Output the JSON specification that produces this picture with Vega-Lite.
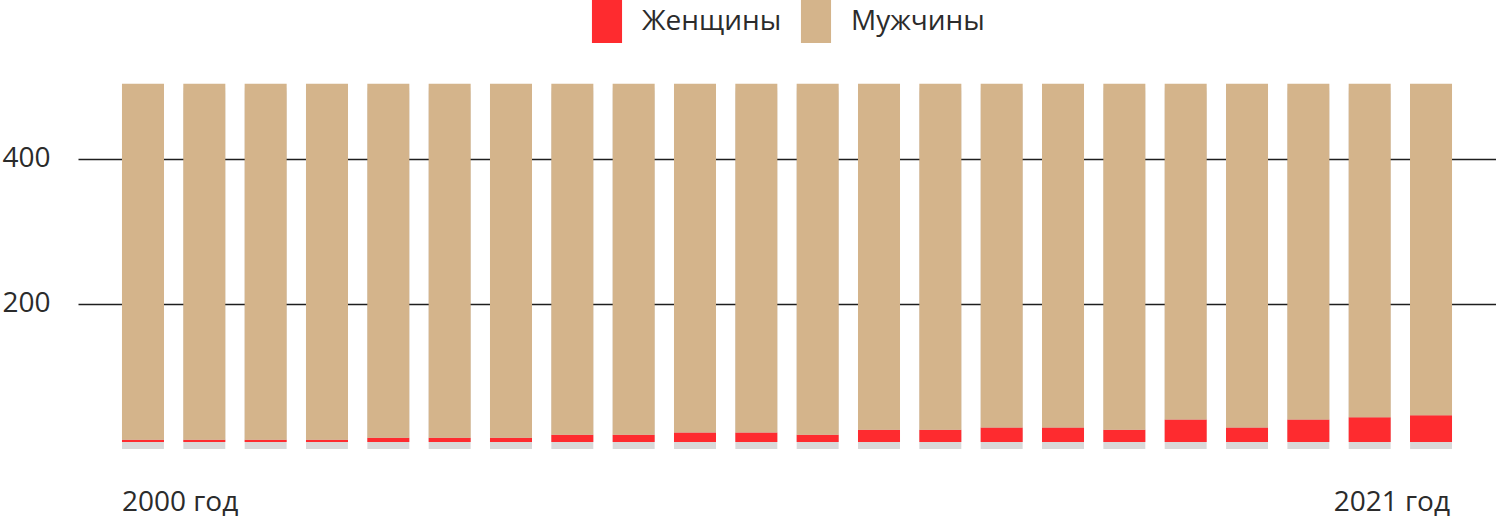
{
  "$schema": "https://vega.github.io/schema/vega-lite/v6.json",
  "width": 1418,
  "height": 365,
  "autosize": {"type": "none"},
  "padding": {"left": 78, "top": 84, "right": 0, "bottom": 69},
  "background": "white",
  "config": {
    "view": {"stroke": null},
    "font": "Open Sans",
    "axisY": {
      "grid": true, "gridColor": "#1e1e1e", "gridWidth": 1.3, "domain": false, "ticks": false, "tickSize": 0,
      "labelAlign": "left", "labelPadding": 76, "labelFontSize": 28, "labelColor": "#2b2b2b"
    },
    "axisX": {
      "grid": false, "domain": false, "ticks": false, "tickSize": 0, "labelAngle": 0,
      "labelFontSize": 28, "labelColor": "#2b2b2b", "labelBaseline": "alphabetic", "labelPadding": 61,
      "labelOverlap": false, "labelFlush": false
    }
  },
  "data": {
    "values": [
      {"year": 2000, "sex": "Женщины", "value": 3}, {"year": 2000, "sex": "Мужчины", "value": 491},
      {"year": 2001, "sex": "Женщины", "value": 3}, {"year": 2001, "sex": "Мужчины", "value": 491},
      {"year": 2002, "sex": "Женщины", "value": 3}, {"year": 2002, "sex": "Мужчины", "value": 491},
      {"year": 2003, "sex": "Женщины", "value": 3}, {"year": 2003, "sex": "Мужчины", "value": 491},
      {"year": 2004, "sex": "Женщины", "value": 6}, {"year": 2004, "sex": "Мужчины", "value": 488},
      {"year": 2005, "sex": "Женщины", "value": 6}, {"year": 2005, "sex": "Мужчины", "value": 488},
      {"year": 2006, "sex": "Женщины", "value": 6}, {"year": 2006, "sex": "Мужчины", "value": 488},
      {"year": 2007, "sex": "Женщины", "value": 10}, {"year": 2007, "sex": "Мужчины", "value": 484},
      {"year": 2008, "sex": "Женщины", "value": 10}, {"year": 2008, "sex": "Мужчины", "value": 484},
      {"year": 2009, "sex": "Женщины", "value": 13}, {"year": 2009, "sex": "Мужчины", "value": 481},
      {"year": 2010, "sex": "Женщины", "value": 13}, {"year": 2010, "sex": "Мужчины", "value": 481},
      {"year": 2011, "sex": "Женщины", "value": 10}, {"year": 2011, "sex": "Мужчины", "value": 484},
      {"year": 2012, "sex": "Женщины", "value": 17}, {"year": 2012, "sex": "Мужчины", "value": 477},
      {"year": 2013, "sex": "Женщины", "value": 17}, {"year": 2013, "sex": "Мужчины", "value": 477},
      {"year": 2014, "sex": "Женщины", "value": 20}, {"year": 2014, "sex": "Мужчины", "value": 474},
      {"year": 2015, "sex": "Женщины", "value": 20}, {"year": 2015, "sex": "Мужчины", "value": 474},
      {"year": 2016, "sex": "Женщины", "value": 17}, {"year": 2016, "sex": "Мужчины", "value": 477},
      {"year": 2017, "sex": "Женщины", "value": 31}, {"year": 2017, "sex": "Мужчины", "value": 463},
      {"year": 2018, "sex": "Женщины", "value": 20}, {"year": 2018, "sex": "Мужчины", "value": 474},
      {"year": 2019, "sex": "Женщины", "value": 31}, {"year": 2019, "sex": "Мужчины", "value": 463},
      {"year": 2020, "sex": "Женщины", "value": 34}, {"year": 2020, "sex": "Мужчины", "value": 460},
      {"year": 2021, "sex": "Женщины", "value": 37}, {"year": 2021, "sex": "Мужчины", "value": 457}
    ]
  },
  "encoding": {
    "x": {
      "field": "year", "type": "ordinal", "title": null,
      "scale": {"paddingInner": 0.315, "paddingOuter": 0.717},
      "axis": {
        "labelExpr": "datum.value == 2000 ? '2000 год' : (datum.value == 2021 ? '2021 год' : '')",
        "labelAlign": {"condition": {"test": "datum.value == 2000", "value": "left"}, "value": "right"},
        "labelOffset": {"condition": {"test": "datum.value == 2000", "value": -21}, "value": 19}
      }
    }
  },
  "layer": [
    {
      "mark": {"type": "bar", "color": "#000000", "opacity": 0.03, "yOffset": 2, "y2Offset": 8},
      "encoding": {
        "y": {"aggregate": "sum", "field": "value", "type": "quantitative", "title": null,
              "scale": {"domain": [0, 503.4], "nice": false}, "axis": {"values": [200, 400]}}
      }
    },
    {
      "mark": {"type": "bar", "color": "#000000", "opacity": 0.05, "yOffset": 0, "y2Offset": 4},
      "encoding": {
        "y": {"aggregate": "sum", "field": "value", "type": "quantitative", "title": null,
              "scale": {"domain": [0, 503.4], "nice": false}, "axis": {"values": [200, 400]}}
      }
    },
    {
      "mark": {"type": "bar", "color": "#000000", "opacity": 0.07, "yOffset": -3, "y2Offset": 0},
      "encoding": {
        "y": {"aggregate": "sum", "field": "value", "type": "quantitative", "title": null,
              "scale": {"domain": [0, 503.4], "nice": false}, "axis": {"values": [200, 400]}}
      }
    },
    {
      "mark": {"type": "bar", "yOffset": -7, "y2Offset": -7},
      "encoding": {
        "y": {"field": "value", "type": "quantitative", "stack": "zero", "title": null,
              "scale": {"domain": [0, 503.4], "nice": false}, "axis": {"values": [200, 400]}},
        "order": {"field": "sex", "sort": "ascending"},
        "color": {
          "field": "sex", "type": "nominal",
          "scale": {"domain": ["Женщины", "Мужчины"], "range": ["#fe2b2f", "#d4b48b"]},
          "legend": {
            "orient": "none", "legendX": 507.5, "legendY": -84, "direction": "horizontal", "title": null,
            "symbolType": "M-0.7,-1H0.7V1H-0.7Z", "symbolSize": 1849, "symbolStrokeWidth": 0, "symbolOpacity": 1,
            "labelFontSize": 28, "labelColor": "#2b2b2b", "labelOffset": 13.5, "columnPadding": 13, "padding": 0
          }
        }
      }
    }
  ]
}
